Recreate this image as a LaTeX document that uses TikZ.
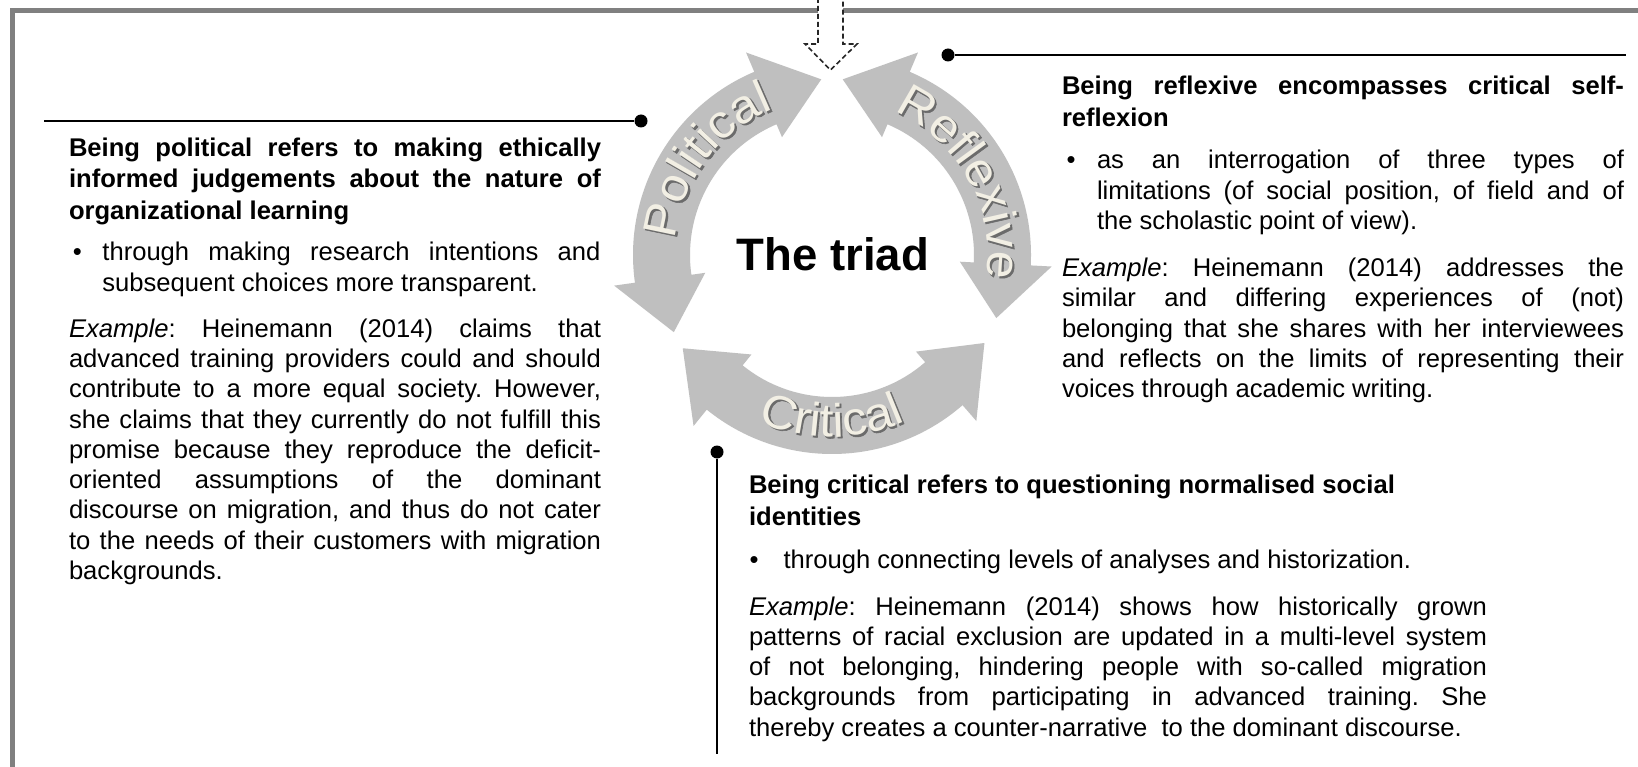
\documentclass[tikz,border=0pt]{standalone}
\usepackage{fontspec}
\setmainfont{Liberation Sans}
\newfontfamily\arcfamily[FakeStretch=1.06]{Liberation Sans}
\newfontfamily\arcrimfamily[FakeStretch=1.06,FakeBold=1.2]{Liberation Sans}
\usetikzlibrary{calc,decorations.text}

\definecolor{framegray}{gray}{0.5}
\definecolor{ringgray}{gray}{0.75}
\definecolor{creamtext}{HTML}{F2EFE4}
\definecolor{rimgray}{gray}{0.42}

\newcommand\bodyfont{\fontsize{25.6}{30.3}\selectfont}
\newcommand\headfont{\fontsize{25.6}{31.5}\selectfont\bfseries}
\newcommand\arcfont{\arcfamily\fontsize{47}{47}\selectfont}
\newcommand\arcrimfont{\arcrimfamily\fontsize{47}{47}\selectfont}

\frenchspacing
\tolerance=10000
\hbadness=10000
\hyphenpenalty=10000
\exhyphenpenalty=10000

% double-headed ring arrow around (C): tip, shaft start, shaft end, tip (angles ccw)
\newcommand\ringarrow[4]{%
  \fill[ringgray] ($(C)+(#2:199)$) arc[start angle=#2, end angle=#3, radius=199]
    -- ($(C)+(#3:220)$) -- ($(C)+(#4:176)$) -- ($(C)+(#3:128)$) -- ($(C)+(#3:142)$)
    arc[start angle=#3, end angle=#2, radius=142]
    -- ($(C)+(#2:128)$) -- ($(C)+(#1:176)$) -- ($(C)+(#2:220)$) -- cycle;}

% embossed word along an arc around (C): text, start angle, end angle, radius
\newcommand\arcword[4]{%
  \path[decorate, decoration={text along path, text={|\arcrimfont|#1}, text align=center, text color=rimgray}]
    ($(C)+(1.2,-1.2)+(#2:#4)$) arc[start angle=#2, end angle=#3, radius=#4];
  \path[decorate, decoration={text along path, text={|\arcfont|#1}, text align=center, text color=creamtext}]
    ($(C)+(#2:#4)$) arc[start angle=#2, end angle=#3, radius=#4];}

\tikzset{
  para/.style={anchor=base west, inner sep=0pt, outer sep=0pt, text width=#1, align=justify, font=\bodyfont},
  head/.style={anchor=base west, inner sep=0pt, outer sep=0pt, text width=#1, align=justify, font=\headfont},
  bulletmark/.style={anchor=base west, inner sep=0pt, outer sep=0pt, font=\bodyfont},
  dot/.style={circle, fill=black, inner sep=0pt, minimum size=13pt},
  leader/.style={line width=1.8pt, black},
  dashedarrow/.style={fill=white, draw=black!85, line width=1.6pt, dash pattern=on 5pt off 3pt}
}

\begin{document}
\begin{tikzpicture}[x=1pt,y=1pt]
\useasboundingbox (0,0) rectangle (1638,-767);
\fill[white] (0,0) rectangle (1638,-767);

% outer frame (open to the right and bottom)
\coordinate (frameBL) at (12.5,-767);
\coordinate (frameTL) at (12.5,-10.5);
\coordinate (frameTR) at (1638,-10.5);
\draw[framegray, line width=4.5pt] (frameBL) -- (frameTL) -- (frameTR);

% incoming dashed arrow at the top
\draw[dashedarrow] (818,2) -- (818,-44) -- (805,-44) -- (830.5,-70) -- (857,-44) -- (843,-44) -- (843,2);

% the cycle of three arrows
\coordinate (C) at (832,-255);
\ringarrow{93.5}{113}{188}{206}
\ringarrow{-21}{-3}{67}{86.5}
\ringarrow{212}{231}{311}{330}

\arcword{Political}{198}{88}{157}
\arcword{Reflexive}{84}{-26}{156}
\arcword{Critical}{215}{325}{182}

\node[font=\fontsize{45.5}{50}\selectfont\bfseries, inner sep=0pt] (triad) at (833,-254) {The triad};

% leaders with dots
\coordinate (polEnd) at (44,-121);
\node[dot] (polDot) at (641,-121) {};
\draw[leader] (polEnd) -- (polDot);

\node[dot] (refDot) at (948,-55) {};
\coordinate (refEnd) at (1626,-55);
\draw[leader] (refDot) -- (refEnd);

\node[dot] (criDot) at (717,-452) {};
\coordinate (criEnd) at (717,-754);
\draw[leader] (criDot) -- (criEnd);

% political
\node[head=532pt] (polHead) at (69,-156.5) {Being political refers to making ethically\linebreak
informed judgements about the nature of\linebreak
organizational learning};
\node[bulletmark] (polBul) at (72.8,-260.8) {\textbullet};
\node[para=498pt] (polItem) at (102.4,-260.8) {through making research intentions and\linebreak
subsequent choices more transparent.};
\node[para=532pt] (polEx) at (69,-337.1) {\textit{Example}: Heinemann (2014) claims that\linebreak
advanced training providers could and should\linebreak
contribute to a more equal society. However,\linebreak
she claims that they currently do not fulfill this\linebreak
promise because they reproduce the deficit-\linebreak
oriented assumptions of the dominant\linebreak
discourse on migration, and thus do not cater\linebreak
to the needs of their customers with migration\linebreak
backgrounds.};

% reflexive
\node[head=562pt] (refHead) at (1062,-94.8) {Being reflexive encompasses critical self-\linebreak
reflexion};
\node[bulletmark] (refBul) at (1066.5,-168.9) {\textbullet};
\node[para=527pt] (refItem) at (1097,-168.9) {as an interrogation of three types of\linebreak
limitations (of social position, of field and of\linebreak
the scholastic point of view).};
\node[para=562pt] (refEx) at (1062,-276.5) {\textit{Example}: Heinemann (2014) addresses the\linebreak
similar and differing experiences of (not)\linebreak
belonging that she shares with her interviewees\linebreak
and reflects on the limits of representing their\linebreak
voices through academic writing.};

% critical
\node[head=738pt] (criHead) at (749,-493.8) {Being critical refers to questioning normalised social\newline
identities};
\node[bulletmark] (criBul) at (749.7,-568) {\textbullet};
\node[para=704pt] (criItem) at (783.5,-568) {through connecting levels of analyses and historization.};
\node[para=738pt] (criEx) at (749,-615) {\textit{Example}: Heinemann (2014) shows how historically grown\linebreak
patterns of racial exclusion are updated in a multi-level system\linebreak
of not belonging, hindering people with so-called migration\linebreak
backgrounds from participating in advanced training. She\linebreak
thereby creates a counter-narrative\ \ to the dominant discourse.};
\end{tikzpicture}
\end{document}
